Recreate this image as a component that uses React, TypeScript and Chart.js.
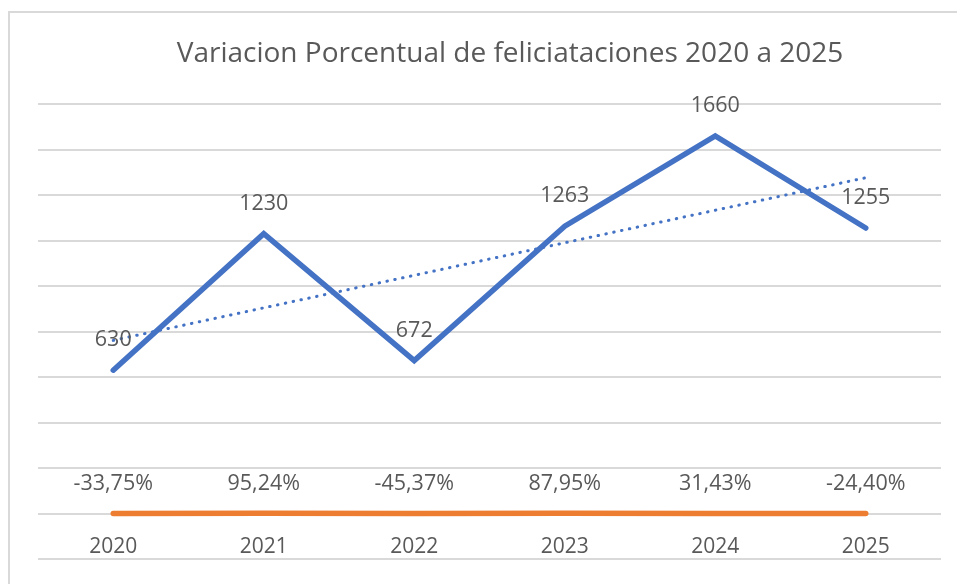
import React, { useEffect, useRef } from "react";
import { Chart, registerables } from "chart.js";

Chart.register(...registerables);

const years = ["2020", "2021", "2022", "2023", "2024", "2025"];
const felicitaciones = [630, 1230, 672, 1263, 1660, 1255];
const variacionPct = [-33.75, 95.24, -45.37, 87.95, 31.43, -24.4];
// Linear trendline endpoints
const trendValues = [761, null, null, null, null, 1476];
const titleText = "Variacion Porcentual de feliciataciones 2020 a 2025";

const TEXT = "#595959";
const BLUE = "#4472C4";
const ORANGE = "#ED7D31";

const fmtPct = (v: number) => v.toFixed(2).replace(".", ",") + "%";

const labelsPlugin = {
  id: "customLabels",
  afterDatasetsDraw(chart: any) {
    const ctx = chart.ctx;
    const xs = chart.scales.x;
    const ys = chart.scales.y;
    ctx.save();
    ctx.fillStyle = TEXT;
    ctx.textAlign = "center";
    ctx.textBaseline = "middle";
    // title
    ctx.font = "28px 'Open Sans'";
    ctx.fillText(titleText, 500, 41);
    ctx.font = "21.5px 'Open Sans'";
    felicitaciones.forEach((v, i) => {
      const x = xs.getPixelForValue(i);
      const y = ys.getPixelForValue(v);
      ctx.fillText(String(v), x, y - 30);
    });
    const y0 = ys.getPixelForValue(0);
    variacionPct.forEach((v, i) => {
      const x = xs.getPixelForValue(i);
      ctx.fillText(fmtPct(v), x, y0 - 30);
    });
    ctx.font = "21px 'Open Sans'";
    years.forEach((lab, i) => {
      const x = xs.getPixelForValue(i);
      ctx.fillText(lab, x, y0 + 34);
    });
    ctx.restore();
  },
};

export default function App() {
  const ref = useRef<HTMLCanvasElement | null>(null);
  useEffect(() => {
    document.body.style.overflow = "hidden";
    const chart = new Chart(ref.current as HTMLCanvasElement, {
      type: "line",
      data: {
        labels: years,
        datasets: [
          {
            data: variacionPct.map((v) => v / 100),
            borderColor: ORANGE,
            borderWidth: 5.5,
            borderCapStyle: "round",
            pointRadius: 0,
            tension: 0,
          },
          {
            data: trendValues,
            borderColor: BLUE,
            borderWidth: 3,
            borderDash: [0.5, 7.5],
            borderCapStyle: "round",
            pointRadius: 0,
            spanGaps: true,
            tension: 0,
          },
          {
            data: felicitaciones,
            borderColor: BLUE,
            borderWidth: 5.5,
            borderCapStyle: "round",
            borderJoinStyle: "miter",
            pointRadius: 0,
            tension: 0,
          },
        ],
      },
      options: {
        responsive: false,
        animation: false,
        layout: { padding: { left: 28, right: 16, top: 91, bottom: 25 } },
        plugins: {
          legend: { display: false },
          tooltip: { enabled: false },
          title: { display: false },
        },
        scales: {
          x: { display: false, offset: true },
          y: {
            min: -200,
            max: 1800,
            ticks: { display: false, stepSize: 200 },
            border: { display: false },
            grid: { color: "#d9d9d9", lineWidth: 2, drawTicks: false },
          },
        },
      },
      plugins: [labelsPlugin],
    } as any);
    return () => chart.destroy();
  }, []);
  return (
    <div
      style={{
        position: "fixed",
        left: 8,
        top: 11,
        width: 949,
        height: 573,
        borderLeft: "2px solid #d9d9d9",
        borderTop: "2px solid #d9d9d9",
        boxSizing: "border-box",
        background: "#fff",
      }}
    >
      <canvas ref={ref} width={947} height={571} style={{ display: "block" }} />
    </div>
  );
}
